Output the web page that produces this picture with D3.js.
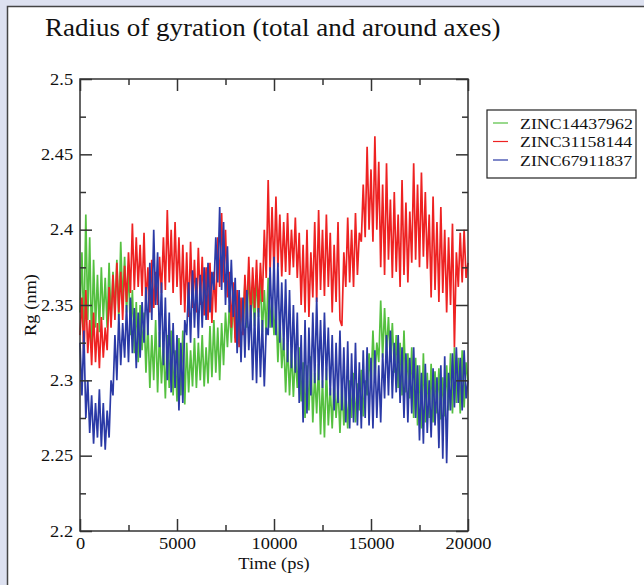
<!DOCTYPE html>
<html>
<head>
<meta charset="utf-8">
<script src="https://cdn.jsdelivr.net/npm/d3@7"></script>
<style>
  body { margin: 0; background: #dde1f0; }
  svg { display: block; }
</style>
</head>
<body>
<svg id="chart" width="644" height="585"></svg>
<script>
// sampled every 100 ps, 0 .. 20000
const timeStep = 100;

const seriesNames = ["ZINC14437962", "ZINC31158144", "ZINC67911837"];
const seriesColors = ["#55c040", "#ee2222", "#2b3aa6"];

const greenVals = [
  2.345, 2.385, 2.330, 2.410, 2.340,  2.395, 2.322, 2.380, 2.335, 2.370,
  2.332, 2.375, 2.340, 2.368, 2.335,  2.378, 2.338, 2.372, 2.345, 2.380,
  2.340, 2.392, 2.350, 2.382, 2.345,  2.375, 2.330, 2.360, 2.318, 2.352,
  2.312, 2.350, 2.320, 2.345, 2.305,  2.338, 2.295, 2.330, 2.300, 2.340,
  2.292, 2.332, 2.298, 2.325, 2.288,  2.330, 2.295, 2.333, 2.290, 2.320,
  2.286, 2.328, 2.290, 2.333, 2.284,  2.325, 2.292, 2.320, 2.296, 2.328,
  2.295, 2.325, 2.300, 2.330, 2.296,  2.322, 2.298, 2.336, 2.302, 2.340,
  2.305, 2.335, 2.300, 2.338, 2.310,  2.345, 2.322, 2.350, 2.325, 2.355,
  2.328, 2.352, 2.324, 2.348, 2.335,  2.365, 2.335, 2.373, 2.340, 2.362,
  2.336, 2.370, 2.342, 2.365, 2.332,  2.360, 2.330, 2.368, 2.335, 2.355,
  2.330, 2.350, 2.312, 2.342, 2.308,  2.328, 2.292, 2.325, 2.290, 2.320,
  2.289, 2.318, 2.295, 2.322, 2.286,  2.312, 2.275, 2.310, 2.280, 2.316,
  2.272, 2.305, 2.278, 2.311, 2.264,  2.300, 2.262, 2.308, 2.270, 2.295,
  2.268, 2.300, 2.275, 2.296, 2.265,  2.298, 2.270, 2.292, 2.268, 2.300,
  2.275, 2.305, 2.272, 2.298, 2.280,  2.307, 2.276, 2.300, 2.290, 2.318,
  2.295, 2.333, 2.300, 2.325, 2.312,  2.353, 2.315, 2.348, 2.318, 2.342,
  2.312, 2.338, 2.305, 2.330, 2.295,  2.325, 2.290, 2.333, 2.292, 2.318,
  2.288, 2.322, 2.275, 2.315, 2.270,  2.310, 2.268, 2.318, 2.272, 2.305,
  2.275, 2.311, 2.272, 2.306, 2.278,  2.308, 2.274, 2.302, 2.276, 2.310,
  2.280, 2.318, 2.278, 2.322, 2.285,  2.315, 2.278, 2.320, 2.282, 2.312,
  2.300
];

const redVals = [
  2.330, 2.355, 2.315, 2.360, 2.318,  2.340, 2.310, 2.345, 2.312, 2.338,
  2.308, 2.342, 2.315, 2.335, 2.320,  2.362, 2.335, 2.370, 2.340, 2.378,
  2.345, 2.372, 2.340, 2.376, 2.352,  2.385, 2.358, 2.404, 2.360, 2.395,
  2.362, 2.390, 2.356, 2.398, 2.350,  2.375, 2.345, 2.380, 2.348, 2.372,
  2.350, 2.382, 2.358, 2.395, 2.360,  2.413, 2.365, 2.400, 2.358, 2.405,
  2.362, 2.395, 2.350, 2.390, 2.345,  2.385, 2.342, 2.392, 2.348, 2.380,
  2.345, 2.388, 2.350, 2.382, 2.343,  2.375, 2.340, 2.378, 2.338, 2.372,
  2.345, 2.395, 2.362, 2.411, 2.365,  2.400, 2.355, 2.372, 2.335, 2.365,
  2.325, 2.360, 2.322, 2.355, 2.330,  2.370, 2.345, 2.382, 2.342, 2.375,
  2.348, 2.380, 2.345, 2.378, 2.352,  2.400, 2.368, 2.433, 2.372, 2.415,
  2.370, 2.422, 2.375, 2.410, 2.369,  2.405, 2.372, 2.411, 2.370, 2.400,
  2.375, 2.408, 2.368, 2.398, 2.350,  2.390, 2.345, 2.400, 2.342, 2.385,
  2.355, 2.405, 2.352, 2.413, 2.360,  2.400, 2.356, 2.410, 2.362, 2.398,
  2.345, 2.390, 2.352, 2.405, 2.340,  2.336, 2.385, 2.362, 2.408, 2.365,
  2.400, 2.362, 2.411, 2.370, 2.398,  2.392, 2.430, 2.395, 2.455, 2.400,
  2.440, 2.392, 2.462, 2.400, 2.445,  2.375, 2.430, 2.370, 2.444, 2.380,
  2.420, 2.368, 2.425, 2.372, 2.410,  2.362, 2.433, 2.370, 2.418, 2.365,
  2.412, 2.378, 2.444, 2.380, 2.430,  2.375, 2.438, 2.382, 2.425, 2.374,
  2.410, 2.355, 2.422, 2.360, 2.405,  2.352, 2.415, 2.358, 2.400, 2.345,
  2.395, 2.350, 2.404, 2.322, 2.385,  2.362, 2.398, 2.365, 2.400, 2.368,
  2.378
];

const blueVals = [
  2.325, 2.290, 2.333, 2.275, 2.300,  2.265, 2.290, 2.258, 2.285, 2.262,
  2.294, 2.256, 2.285, 2.254, 2.280,  2.262, 2.300, 2.290, 2.330, 2.300,
  2.344, 2.310, 2.338, 2.315, 2.350,  2.312, 2.355, 2.318, 2.348, 2.308,
  2.345, 2.315, 2.352, 2.325, 2.362,  2.330, 2.378, 2.340, 2.400, 2.350,
  2.385, 2.322, 2.365, 2.310, 2.355,  2.300, 2.345, 2.292, 2.338, 2.295,
  2.330, 2.280, 2.325, 2.285, 2.340,  2.330, 2.365, 2.325, 2.373, 2.335,
  2.368, 2.328, 2.370, 2.335, 2.375,  2.340, 2.378, 2.345, 2.372, 2.360,
  2.395, 2.365, 2.415, 2.360, 2.405,  2.350, 2.389, 2.345, 2.380, 2.342,
  2.368, 2.318, 2.360, 2.312, 2.355,  2.315, 2.360, 2.320, 2.350, 2.300,
  2.345, 2.298, 2.348, 2.302, 2.340,  2.296, 2.335, 2.330, 2.375, 2.335,
  2.382, 2.330, 2.378, 2.325, 2.365,  2.320, 2.367, 2.312, 2.360, 2.308,
  2.350, 2.305, 2.345, 2.285, 2.330,  2.272, 2.340, 2.278, 2.335, 2.290,
  2.345, 2.298, 2.355, 2.300, 2.340,  2.295, 2.345, 2.300, 2.335, 2.290,
  2.330, 2.280, 2.325, 2.285, 2.333,  2.280, 2.322, 2.272, 2.326, 2.268,
  2.318, 2.272, 2.325, 2.270, 2.312,  2.268, 2.320, 2.275, 2.322, 2.270,
  2.315, 2.268, 2.320, 2.275, 2.310,  2.272, 2.318, 2.288, 2.330, 2.290,
  2.333, 2.288, 2.325, 2.292, 2.330,  2.285, 2.322, 2.275, 2.318, 2.272,
  2.315, 2.278, 2.322, 2.275, 2.310,  2.260, 2.305, 2.258, 2.311, 2.265,
  2.300, 2.262, 2.308, 2.270, 2.302,  2.255, 2.310, 2.248, 2.316, 2.245,
  2.305, 2.280, 2.318, 2.282, 2.322,  2.285, 2.315, 2.280, 2.320, 2.288,
  2.300
];

const xMajor = [0, 5000, 10000, 15000, 20000];
const xMinor = [2500, 7500, 12500, 17500];
const yMajor = [2.2, 2.25, 2.3, 2.35, 2.4, 2.45, 2.5];
const yMinor = [2.225, 2.275, 2.325, 2.375, 2.425, 2.475];
const yTickLabels = ["2.2", "2.25", "2.3", "2.35", "2.4", "2.45", "2.5"];

const serif = "'Liberation Serif', 'Times New Roman', serif";
const stretch = 1.15;

let svg = d3.select("#chart");

// white panel
svg.append("rect")
    .attr("x", 7.5).attr("y", 6.5)
    .attr("width", 660).attr("height", 600)
    .attr("fill", "white")
    .attr("stroke", "#444")
    .attr("stroke-width", 1.5);

// title
svg.append("text")
    .attr("transform", "translate(45,36) scale(1.08,1)")
    .attr("font-family", serif)
    .attr("font-size", 25)
    .attr("fill", "#111")
    .text("Radius of gyration (total and around axes)");

let pLeft = 80, pRight = 468, pTop = 79, pBottom = 531;

let x = d3.scaleLinear().domain([0, 20000]).range([pLeft, pRight]);
let y = d3.scaleLinear().domain([2.2, 2.5]).range([pBottom, pTop]);

// series
let line = d3.line()
    .x((d, i) => x(i * timeStep))
    .y(d => y(d));

let plot = svg.append("g");
[greenVals, redVals, blueVals].forEach(function (vals, k) {
    plot.append("path")
        .datum(vals)
        .attr("d", line)
        .attr("fill", "none")
        .attr("stroke", seriesColors[k])
        .attr("stroke-width", 1.7)
        .attr("stroke-linejoin", "bevel");
});

// frame
svg.append("rect")
    .attr("x", pLeft).attr("y", pTop)
    .attr("width", pRight - pLeft).attr("height", pBottom - pTop)
    .attr("fill", "none")
    .attr("stroke", "#333")
    .attr("stroke-width", 1.5);

// axes, ticks pointing inward on all sides
function addAxis(axis, tx, ty) {
    let g = svg.append("g")
        .attr("transform", "translate(" + tx + "," + ty + ")")
        .call(axis);
    g.select(".domain").remove();
    g.selectAll(".tick line").attr("stroke", "#333").attr("stroke-width", 1.5);
    return g;
}

let xb = addAxis(d3.axisBottom(x).tickValues(xMajor).tickSize(-12).tickPadding(7)
    .tickFormat(d3.format("d")), 0, pBottom);
addAxis(d3.axisBottom(x).tickValues(xMinor).tickSize(-6).tickFormat(""), 0, pBottom);
addAxis(d3.axisTop(x).tickValues(xMajor).tickSize(-12).tickFormat(""), 0, pTop);
addAxis(d3.axisTop(x).tickValues(xMinor).tickSize(-6).tickFormat(""), 0, pTop);

let yl = addAxis(d3.axisLeft(y).tickValues(yMajor).tickSize(-12).tickPadding(6)
    .tickFormat((d, i) => yTickLabels[i]), pLeft, 0);
addAxis(d3.axisLeft(y).tickValues(yMinor).tickSize(-6).tickFormat(""), pLeft, 0);
addAxis(d3.axisRight(y).tickValues(yMajor).tickSize(-12).tickFormat(""), pRight, 0);
addAxis(d3.axisRight(y).tickValues(yMinor).tickSize(-6).tickFormat(""), pRight, 0);

[xb, yl].forEach(function (g) {
    g.selectAll(".tick text")
        .attr("font-family", serif)
        .attr("font-size", 16)
        .attr("fill", "#111")
        .attr("transform", "scale(" + stretch + ",1)");
});

// axis titles
svg.append("text")
    .attr("transform", "translate(" + (pLeft + pRight) / 2 + ",569) scale(" + stretch + ",1)")
    .attr("text-anchor", "middle")
    .attr("font-family", serif)
    .attr("font-size", 16)
    .attr("fill", "#111")
    .text("Time (ps)");

svg.append("text")
    .attr("transform", "translate(36," + (pTop + pBottom) / 2 + ") rotate(-90) scale(" + stretch + ",1)")
    .attr("text-anchor", "middle")
    .attr("font-family", serif)
    .attr("font-size", 16)
    .attr("fill", "#111")
    .text("Rg (nm)");

// legend
let legend = svg.append("g").attr("transform", "translate(487,110)");
legend.append("rect")
    .attr("width", 149).attr("height", 68)
    .attr("fill", "white")
    .attr("stroke", "#222")
    .attr("stroke-width", 1.2);

seriesNames.forEach(function (name, i) {
    let cy = 13 + i * 18.5;
    legend.append("line")
        .attr("x1", 6).attr("x2", 21)
        .attr("y1", cy).attr("y2", cy)
        .attr("stroke", seriesColors[i])
        .attr("stroke-width", 1.2);
    legend.append("text")
        .attr("transform", "translate(33," + (cy + 5.5) + ") scale(" + stretch + ",1)")
        .attr("font-family", serif)
        .attr("font-size", 15.5)
        .attr("fill", "#111")
        .text(name);
});
</script>
</body>
</html>
